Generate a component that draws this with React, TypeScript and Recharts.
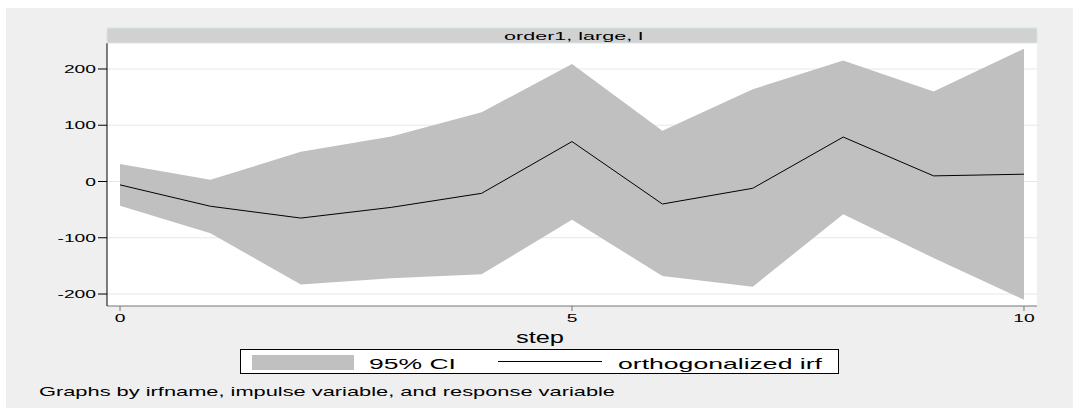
import React from 'react';
import {
  ComposedChart,
  Area,
  Line,
  XAxis,
  YAxis,
  CartesianGrid,
} from 'recharts';

// impulse response
const STEPS = [0, 1, 2, 3, 4, 5, 6, 7, 8, 9, 10];
const CI_LOWER = [-43, -92, -183, -172, -165, -68, -168, -187, -58, -136, -210];
const CI_UPPER = [31, 3, 53, 80, 123, 209, 90, 164, 215, 160, 236];
const IRF = [-6, -44, -65, -46, -21, 71, -40, -12, 79, 10, 13];

const X_TICKS = [0, 5, 10];
const Y_TICKS = [-200, -100, 0, 100, 200];

const PANEL_TITLE = 'order1, large, l';
const X_TITLE = 'step';
const LEGEND_CI = '95% CI';
const LEGEND_IRF = 'orthogonalized irf';
const NOTE = 'Graphs by irfname, impulse variable, and response variable';

const FONT = '"Liberation Sans", Arial, Helvetica, sans-serif';
const BAND = '#c0c0c0';
const STRETCH = 1.75;

const data = STEPS.map((s, i) => ({
  step: s,
  ci: [CI_LOWER[i], CI_UPPER[i]],
  irf: IRF[i],
}));

function YTick({ x, y, payload }: any) {
  return (
    <g transform={`translate(${x},${y + 4}) scale(${STRETCH},1)`}>
      <text x={0} y={0} textAnchor="end" fontSize={11} fontFamily={FONT} fill="#000">
        {payload.value}
      </text>
    </g>
  );
}

function XTick({ x, y, payload }: any) {
  return (
    <g transform={`translate(${x},${y + 9}) scale(${STRETCH},1)`}>
      <text x={0} y={0} textAnchor="middle" fontSize={11} fontFamily={FONT} fill="#000">
        {payload.value}
      </text>
    </g>
  );
}

export default function App() {
  return (
    <div style={{ position: 'absolute', left: 0, top: 0, width: 1073, height: 408 }}>
      <div
        style={{
          position: 'absolute',
          left: 6,
          top: 8,
          width: 1067,
          height: 400,
          background: '#efefef',
        }}
      />
      <div style={{ position: 'absolute', left: 0, top: 0 }}>
        <ComposedChart
          width={1073}
          height={408}
          data={data}
          margin={{ top: 43, right: 36, bottom: 72, left: 47 }}
        >
          <CartesianGrid
            vertical={false}
            stroke="#e3e9eb"
            fill="#ffffff"
            horizontalValues={Y_TICKS}
          />
          <XAxis
            dataKey="step"
            type="number"
            domain={[-0.144, 10.144]}
            ticks={X_TICKS}
            allowDataOverflow
            height={30}
            tickSize={5}
            tickMargin={2}
            stroke="#777"
            tick={<XTick />}
          />
          <YAxis
            type="number"
            domain={[-221.3, 246.2]}
            ticks={Y_TICKS}
            allowDataOverflow
            width={60}
            tickSize={9}
            tickMargin={2}
            stroke="#000"
            tick={<YTick />}
          />
          <Area
            type="linear"
            dataKey="ci"
            fill={BAND}
            fillOpacity={1}
            stroke="none"
            isAnimationActive={false}
          />
          <Line
            type="linear"
            dataKey="irf"
            stroke="#000"
            strokeWidth={1}
            dot={false}
            isAnimationActive={false}
          />
        </ComposedChart>
      </div>
      <svg
        width={1073}
        height={408}
        style={{ position: 'absolute', left: 0, top: 0, pointerEvents: 'none' }}
        fontFamily={FONT}
      >
        {/* panel strip */}
        <rect x={107} y={28} width={930} height={15} fill="#d1d1d1" stroke="#d8e5e8" />
        <text
          x={504}
          y={39.5}
          fontSize={11}
          textLength={139}
          lengthAdjust="spacingAndGlyphs"
        >
          {PANEL_TITLE}
        </text>

        {/* axis title */}
        <text x={516} y={343} fontSize={16} textLength={48} lengthAdjust="spacingAndGlyphs">
          {X_TITLE}
        </text>

        {/* legend */}
        <rect x={240.5} y={349.5} width={598} height={24} fill="#fff" stroke="#000" />
        <rect x={252} y={355} width={102} height={15} fill={BAND} />
        <text x={369} y={368.5} fontSize={15} textLength={87} lengthAdjust="spacingAndGlyphs">
          {LEGEND_CI}
        </text>
        <line x1={498} x2={602} y1={361.5} y2={361.5} stroke="#000" strokeWidth={1} />
        <text x={618} y={368.5} fontSize={15} textLength={204} lengthAdjust="spacingAndGlyphs">
          {LEGEND_IRF}
        </text>

        {/* note */}
        <text x={39} y={395.5} fontSize={13.5} textLength={576} lengthAdjust="spacingAndGlyphs">
          {NOTE}
        </text>
      </svg>
    </div>
  );
}
